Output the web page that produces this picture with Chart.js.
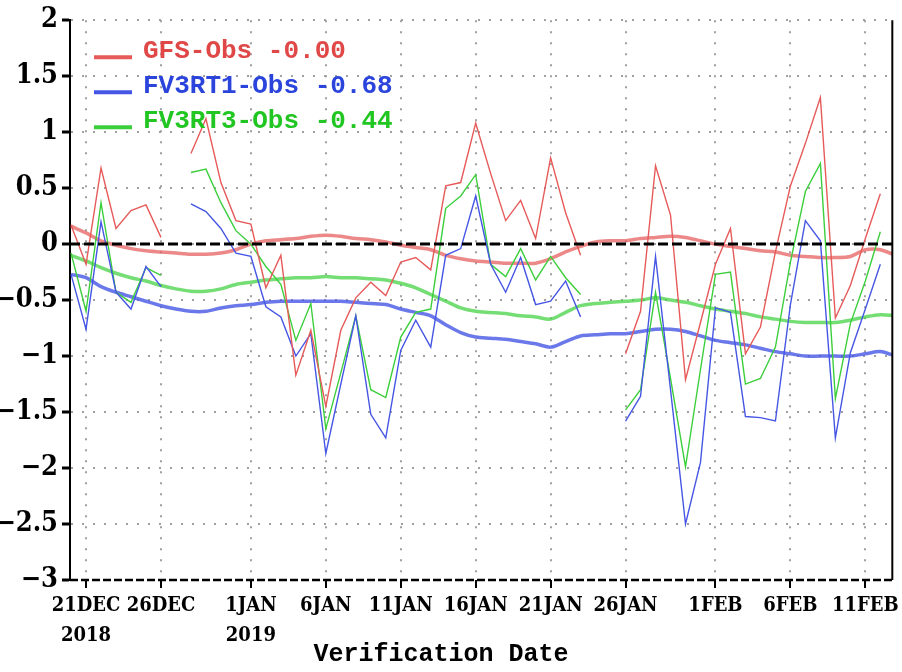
<!DOCTYPE html>
<html>
<head>
<meta charset="utf-8">
<title>Model minus Obs bias</title>
<script src="https://cdn.jsdelivr.net/npm/chart.js@4.4.1/dist/chart.umd.min.js"></script>
<style>
  html, body { margin: 0; padding: 0; background: #fff; }
  #wrap { width: 902px; height: 672px; }
</style>
</head>
<body>
<div id="wrap"><canvas id="bias-chart" width="902" height="672"></canvas></div>
<script>
// day index: 0 = 20 Dec 2018, one value per day
const days = Array.from({ length: 56 }, (_, i) => i);

const tickDays = [1, 6, 12, 17, 22, 27, 32, 37, 43, 48, 53];
const tickLabels = [['21DEC', '2018'], '26DEC', ['1JAN', '2019'], '6JAN', '11JAN', '16JAN',
  '21JAN', '26JAN', '1FEB', '6FEB', '11FEB'];

const seriesNames = ['GFS-Obs', 'FV3RT1-Obs', 'FV3RT3-Obs'];
const seriesMeans = ['-0.00', '-0.68', '-0.44'];

// daily differences (null = missing day)
const gfsDaily = [0.17, -0.18, 0.68, 0.14, 0.30, 0.35, 0.06, null, 0.81, 1.12,
  0.55, 0.21, 0.18, -0.39, -0.10, -1.17, -0.77, -1.45, -0.77, -0.48,
  -0.34, -0.46, -0.16, -0.12, -0.23, 0.52, 0.55, 1.08, 0.63, 0.21,
  0.39, 0.05, 0.77, 0.28, -0.10, null, null, -0.98, -0.60, 0.70,
  0.26, -1.21, -0.70, -0.18, 0.14, -0.98, -0.74, -0.07, 0.52, 0.90,
  1.31, -0.66, -0.37, 0.05, 0.45, null];
const fv3rt1Daily = [-0.27, -0.76, 0.20, -0.43, -0.58, -0.20, -0.38, null, 0.36, 0.29,
  0.14, -0.08, -0.11, -0.56, -0.65, -1.00, -0.80, -1.87, -1.25, -0.64,
  -1.52, -1.73, -0.95, -0.68, -0.92, -0.10, -0.04, 0.43, -0.18, -0.43,
  -0.12, -0.54, -0.51, -0.33, -0.65, null, null, -1.58, -1.36, -0.11,
  -1.30, -2.50, -1.95, -0.57, -0.61, -1.54, -1.55, -1.58, -0.54, 0.21,
  0.03, -1.73, -0.97, -0.58, -0.18, null];
const fv3rt3Daily = [-0.08, -0.60, 0.37, -0.43, -0.52, -0.21, -0.28, null, 0.64, 0.67,
  0.37, 0.12, 0.00, -0.20, -0.36, -0.86, -0.53, -1.65, -1.15, -0.64,
  -1.30, -1.37, -0.83, -0.61, -0.58, 0.32, 0.43, 0.62, -0.18, -0.29,
  -0.04, -0.32, -0.11, -0.30, -0.45, null, null, -1.48, -1.30, -0.43,
  -1.20, -1.99, -1.12, -0.27, -0.25, -1.25, -1.20, -0.92, -0.16, 0.47,
  0.72, -1.38, -0.71, -0.33, 0.11, null];

// running means (thick lines)
const gfsMean = [0.16, 0.10, 0.03, -0.01, -0.04, -0.06, -0.07, -0.08, -0.09, -0.09,
  -0.08, -0.05, 0.00, 0.03, 0.04, 0.05, 0.07, 0.08, 0.07, 0.05,
  0.04, 0.02, -0.01, -0.03, -0.05, -0.10, -0.13, -0.15, -0.16, -0.17,
  -0.17, -0.17, -0.13, -0.07, -0.02, 0.02, 0.03, 0.03, 0.05, 0.06,
  0.07, 0.06, 0.03, 0.00, -0.02, -0.04, -0.06, -0.07, -0.10, -0.11,
  -0.12, -0.12, -0.11, -0.05, -0.05, -0.10];
const fv3rt1Mean = [-0.27, -0.30, -0.38, -0.43, -0.47, -0.51, -0.55, -0.58, -0.60, -0.60,
  -0.57, -0.55, -0.54, -0.52, -0.51, -0.51, -0.51, -0.51, -0.51, -0.52,
  -0.53, -0.54, -0.58, -0.61, -0.64, -0.72, -0.79, -0.83, -0.84, -0.85,
  -0.87, -0.89, -0.92, -0.87, -0.82, -0.81, -0.80, -0.80, -0.78, -0.76,
  -0.76, -0.78, -0.82, -0.86, -0.88, -0.90, -0.93, -0.96, -0.98, -1.00,
  -1.00, -1.00, -1.00, -0.98, -0.96, -1.00];
const fv3rt3Mean = [-0.10, -0.15, -0.21, -0.26, -0.30, -0.33, -0.37, -0.40, -0.42, -0.42,
  -0.40, -0.36, -0.34, -0.32, -0.31, -0.30, -0.30, -0.29, -0.30, -0.30,
  -0.31, -0.32, -0.35, -0.39, -0.45, -0.51, -0.57, -0.60, -0.61, -0.62,
  -0.64, -0.65, -0.67, -0.61, -0.55, -0.53, -0.52, -0.51, -0.50, -0.48,
  -0.50, -0.52, -0.55, -0.58, -0.60, -0.62, -0.65, -0.67, -0.69, -0.70,
  -0.70, -0.70, -0.68, -0.65, -0.63, -0.64];

const RED = '#e65a5a';
const BLUE = '#4656e4';
const GREEN = '#3ccf3c';
const textColors = ['#e04848', '#2a44dc', '#22c622'];
const lineColors = [RED, BLUE, GREEN];

const tickFont = "'DejaVu Serif Condensed', 'DejaVu Serif', serif";
const monoFont = "'Liberation Mono', 'DejaVu Sans Mono', monospace";

const toPoints = arr => arr.map((v, i) => ({ x: days[i], y: v }));

function dailySet(values, color) {
  return { data: toPoints(values), borderColor: color, borderWidth: 1.4,
    pointRadius: 0, tension: 0, spanGaps: false, fill: false };
}
function meanSet(values, color) {
  return { data: toPoints(values), borderColor: color, borderWidth: 3.5,
    pointRadius: 0, tension: 0.3, fill: false };
}

// zero line, dashed bottom, right frame, legend and x title
const framePlugin = {
  id: 'frame',
  afterDatasetsDraw(chart) {
    const { ctx, chartArea } = chart;
    const y0 = chart.scales.y.getPixelForValue(0);
    ctx.save();
    ctx.strokeStyle = '#000';
    ctx.lineWidth = 3;
    ctx.setLineDash([10, 4]);
    ctx.beginPath();
    ctx.moveTo(chartArea.left, y0);
    ctx.lineTo(chartArea.right, y0);
    ctx.stroke();
    ctx.restore();
  },
  afterDraw(chart) {
    const { ctx, chartArea } = chart;
    const yb = chart.scales.y.getPixelForValue(-3);
    ctx.save();
    ctx.strokeStyle = '#000';
    ctx.lineWidth = 2.5;
    ctx.setLineDash([8, 3]);
    ctx.beginPath();
    ctx.moveTo(chartArea.left, yb);
    ctx.lineTo(chartArea.right, yb);
    ctx.stroke();
    ctx.setLineDash([]);
    ctx.lineWidth = 2;
    ctx.beginPath();
    ctx.moveTo(chartArea.right, chartArea.top);
    ctx.lineTo(chartArea.right, chartArea.bottom);
    ctx.stroke();

    // legend
    ctx.font = 'bold 26px ' + monoFont;
    ctx.textBaseline = 'middle';
    ctx.textAlign = 'left';
    seriesNames.forEach((name, i) => {
      const yy = chartArea.top + 31 + i * 35;
      ctx.strokeStyle = lineColors[i];
      ctx.lineWidth = 4;
      ctx.beginPath();
      ctx.moveTo(chartArea.left + 24, yy + 6);
      ctx.lineTo(chartArea.left + 62, yy + 6);
      ctx.stroke();
      ctx.fillStyle = textColors[i];
      ctx.fillText(name + ' ' + seriesMeans[i], chartArea.left + 73, yy);
    });

    // axis title
    ctx.fillStyle = '#000';
    ctx.font = 'bold 25px ' + monoFont;
    ctx.textAlign = 'center';
    ctx.fillText('Verification Date', 441, 655);
    ctx.restore();
  }
};

const ctx = document.getElementById('bias-chart').getContext('2d');
new Chart(ctx, {
  type: 'line',
  data: {
    datasets: [
      dailySet(gfsDaily, RED),
      dailySet(fv3rt1Daily, BLUE),
      dailySet(fv3rt3Daily, GREEN),
      meanSet(gfsMean, 'rgba(230,96,96,0.75)'),
      meanSet(fv3rt1Mean, 'rgba(70,86,228,0.8)'),
      meanSet(fv3rt3Mean, 'rgba(70,210,70,0.75)')
    ]
  },
  options: {
    responsive: false,
    devicePixelRatio: 1,
    animation: false,
    layout: { padding: { top: 12, right: 9, left: 0, bottom: 0 } },
    plugins: { legend: { display: false }, tooltip: { enabled: false } },
    scales: {
      x: {
        type: 'linear',
        min: -0.07,
        max: 54.8,
        afterBuildTicks: axis => { axis.ticks = tickDays.map(v => ({ value: v })); },
        afterFit: scale => { scale.height = 92; },
        ticks: {
          autoSkip: false,
          maxRotation: 0,
          padding: 3,
          color: '#000',
          font: { family: tickFont, size: 20, weight: 'bold', lineHeight: 1.5 },
          callback: v => tickLabels[tickDays.indexOf(v)]
        },
        grid: { color: '#a0a0a0', lineWidth: 2, tickLength: 8, tickColor: '#000',
          tickWidth: 2, tickBorderDash: [] },
        border: { display: false, dash: [2, 9] }
      },
      y: {
        min: -3,
        max: 2,
        afterFit: scale => { scale.width = 70; },
        ticks: {
          stepSize: 0.5,
          padding: 4,
          color: '#000',
          font: { family: tickFont, size: 27, weight: 'bold' },
          callback: v => (v < 0 ? '\u2212' : '') + Math.abs(v)
        },
        grid: { color: '#a0a0a0', lineWidth: 2, tickLength: 8, tickColor: '#000',
          tickWidth: 3, tickBorderDash: [] },
        border: { display: true, color: '#000', width: 2, dash: [2, 9] }
      }
    }
  },
  plugins: [framePlugin]
});
</script>
</body>
</html>
